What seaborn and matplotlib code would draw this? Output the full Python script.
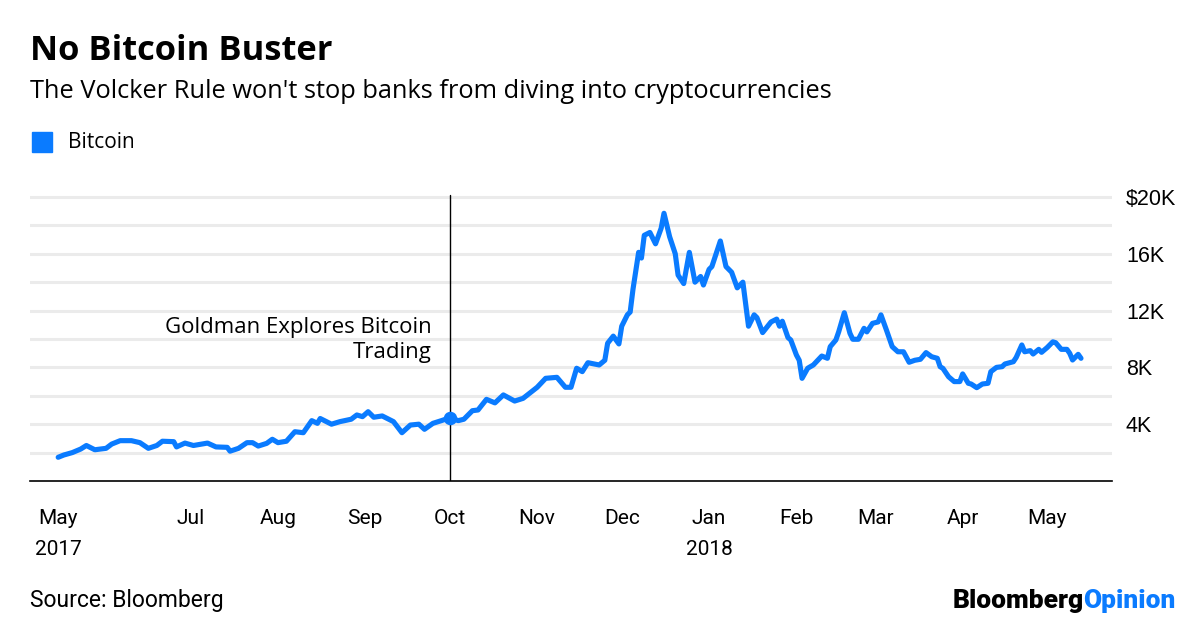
import matplotlib
matplotlib.use("Agg")
import matplotlib.pyplot as plt
import matplotlib.dates as mdates
from matplotlib.text import Annotation
from matplotlib.ticker import FixedLocator, FuncFormatter
import seaborn as sns
import pandas as pd
import numpy as np

# Bitcoin price (USD)
dates = [
    "2017-05-15", "2017-05-17", "2017-05-20", "2017-05-23", "2017-05-25", "2017-05-28",
    "2017-06-01", "2017-06-03", "2017-06-06", "2017-06-10", "2017-06-13", "2017-06-16",
    "2017-06-19", "2017-06-21", "2017-06-25", "2017-06-26", "2017-06-29", "2017-07-02",
    "2017-07-07", "2017-07-10", "2017-07-14", "2017-07-15", "2017-07-18", "2017-07-21",
    "2017-07-23", "2017-07-25", "2017-07-28", "2017-07-30", "2017-08-01", "2017-08-04",
    "2017-08-07", "2017-08-10", "2017-08-13", "2017-08-15", "2017-08-16", "2017-08-20",
    "2017-08-23", "2017-08-27", "2017-08-29", "2017-08-31", "2017-09-02", "2017-09-04",
    "2017-09-07", "2017-09-11", "2017-09-14", "2017-09-17", "2017-09-20", "2017-09-22",
    "2017-09-25", "2017-09-28", "2017-10-01", "2017-10-04", "2017-10-06", "2017-10-09",
    "2017-10-11", "2017-10-14", "2017-10-17", "2017-10-20", "2017-10-24", "2017-10-27",
    "2017-11-01", "2017-11-04", "2017-11-08", "2017-11-11", "2017-11-13", "2017-11-15",
    "2017-11-17", "2017-11-19", "2017-11-23", "2017-11-25", "2017-11-26", "2017-11-28",
    "2017-11-30", "2017-12-01", "2017-12-03", "2017-12-04", "2017-12-05", "2017-12-07",
    "2017-12-08", "2017-12-09", "2017-12-11", "2017-12-13", "2017-12-15", "2017-12-16",
    "2017-12-18", "2017-12-20", "2017-12-21", "2017-12-23", "2017-12-25", "2017-12-27",
    "2017-12-29", "2017-12-30", "2018-01-01", "2018-01-02", "2018-01-05", "2018-01-07",
    "2018-01-09", "2018-01-11", "2018-01-13", "2018-01-15", "2018-01-17", "2018-01-18",
    "2018-01-20", "2018-01-23", "2018-01-25", "2018-01-26", "2018-01-27", "2018-01-29",
    "2018-01-30", "2018-02-01", "2018-02-02", "2018-02-03", "2018-02-05", "2018-02-07",
    "2018-02-10", "2018-02-12", "2018-02-13", "2018-02-15", "2018-02-16", "2018-02-18",
    "2018-02-20", "2018-02-21", "2018-02-23", "2018-02-25", "2018-02-26", "2018-02-28",
    "2018-03-02", "2018-03-03", "2018-03-05", "2018-03-07", "2018-03-09", "2018-03-11",
    "2018-03-13", "2018-03-15", "2018-03-17", "2018-03-19", "2018-03-21", "2018-03-23",
    "2018-03-24", "2018-03-25", "2018-03-27", "2018-03-29", "2018-03-31", "2018-04-01",
    "2018-04-03", "2018-04-04", "2018-04-06", "2018-04-08", "2018-04-10", "2018-04-11",
    "2018-04-13", "2018-04-15", "2018-04-16", "2018-04-19", "2018-04-20", "2018-04-22",
    "2018-04-23", "2018-04-25", "2018-04-26", "2018-04-28", "2018-04-29", "2018-05-01",
    "2018-05-03", "2018-05-04", "2018-05-06", "2018-05-08", "2018-05-09", "2018-05-10",
    "2018-05-12", "2018-05-13",
]
prices = [
    1670, 1830, 2000, 2250, 2500, 2200,
    2300, 2600, 2840, 2840, 2700, 2300,
    2500, 2800, 2770, 2400, 2670, 2500,
    2670, 2400, 2370, 2100, 2300, 2700,
    2700, 2460, 2650, 2940, 2700, 2800,
    3470, 3400, 4250, 4060, 4400, 4000,
    4180, 4350, 4650, 4530, 4880, 4490,
    4580, 4180, 3400, 3940, 4000, 3640,
    4060, 4250, 4450, 4250, 4350, 4950,
    5000, 5750, 5500, 6060, 5630, 5820,
    6600, 7230, 7300, 6600, 6600, 7940,
    7700, 8330, 8170, 8500, 9700, 10200,
    9650, 10900, 11700, 11900, 13500, 16100,
    15700, 17300, 17500, 16700, 17800, 18850,
    17200, 16000, 14500, 13900, 16100, 14000,
    14400, 13800, 14900, 15100, 16900, 15100,
    14700, 13600, 14000, 10900, 11700, 11500,
    10450, 11200, 11400, 10900, 11250, 10100,
    9930, 8870, 8500, 7230, 7940, 8170,
    8800, 8640, 9460, 9930, 10500, 11850,
    10400, 9980, 9980, 10750, 10500, 11100,
    11200, 11700, 10600, 9460, 9100, 9100,
    8360, 8500, 8570, 9040, 8750, 8640,
    8050, 7930, 7340, 7000, 7000, 7540,
    6880, 6830, 6570, 6830, 6880, 7700,
    8000, 8050, 8240, 8400, 8700, 9580,
    9100, 9180, 8940, 9270, 9060, 9400,
    9800, 9740, 9270, 9270, 8990, 8520,
    8920, 8640,
]

tick_dates = ["2017-05-15", "2017-07-01", "2017-08-01", "2017-09-01", "2017-10-01",
              "2017-11-01", "2017-12-01", "2018-01-01", "2018-02-01", "2018-03-01",
              "2018-04-01", "2018-05-01"]
tick_labels = ["May\n2017", "Jul", "Aug", "Sep", "Oct", "Nov", "Dec", "Jan\n2018",
               "Feb", "Mar", "Apr", "May"]
y_labels = [4000, 8000, 12000, 16000, 20000]
y_grid = [2000, 6000, 10000, 14000, 18000]

event_date = "2017-10-01"
event_text = "Goldman Explores Bitcoin\nTrading"

blue = "#0a7bff"

df = pd.DataFrame({"date": pd.to_datetime(dates), "price": prices})

sns.set_style("white")
plt.rcParams["font.family"] = ["Open Sans", "DejaVu Sans"]
plt.rcParams["text.color"] = "black"

fig = plt.figure(figsize=(12, 6.27), dpi=100)
ax = fig.add_axes([30 / 1200, 1 - 481 / 627, (1112 - 30) / 1200, (481 - 185.6) / 627])

sns.lineplot(data=df, x="date", y="price", ax=ax, color=blue, linewidth=3.7,
             solid_joinstyle="round", solid_capstyle="round", zorder=3)

ax.set_xlim(pd.Timestamp("2017-05-05"), pd.Timestamp("2018-05-24"))
ax.set_ylim(0, 20800)

for s in ["top", "right", "left"]:
    ax.spines[s].set_visible(False)
ax.spines["bottom"].set_color("black")
ax.spines["bottom"].set_linewidth(1.2)

# y axis on the right, labels every 4K, grid every 2K
ax.yaxis.tick_right()
ax.yaxis.set_major_locator(FixedLocator(y_labels))
ax.yaxis.set_minor_locator(FixedLocator(y_grid))
ax.yaxis.set_major_formatter(FuncFormatter(
    lambda v, p: f"${v / 1000:.0f}K" if v == max(y_labels) else f"{v / 1000:.0f}K"))
ax.tick_params(axis="y", which="both", length=0, pad=10, labelsize=15.5, labelcolor="black")
for lab in ax.get_yticklabels():
    lab.set_family(["Liberation Sans", "DejaVu Sans"])
ax.grid(axis="y", which="both", color="#ebebeb", linewidth=2.2)
ax.set_axisbelow(True)

# x axis
ax.set_xticks(pd.to_datetime(tick_dates))
ax.set_xticklabels(tick_labels, linespacing=1.8)
ax.tick_params(axis="x", length=7, width=1, color="black", pad=13, labelsize=15,
               labelcolor="black")
for lab in ax.get_xticklabels():
    lab.set_family(["Roboto", "DejaVu Sans"])
ax.set_xlabel("")
ax.set_ylabel("")

# event marker
ev = pd.Timestamp(event_date)
ev_val = np.interp(mdates.date2num(ev), mdates.date2num(df["date"]), df["price"])
ax.axvline(ev, ymin=0, ymax=20150 / 20800, color="black", linewidth=1, zorder=2)
ax.scatter([ev], [ev_val], s=95, color=blue, zorder=4, linewidths=0)
ax.annotate(event_text, xy=(ev, 0), xycoords="data",
            xytext=(-13, (481 - 363) * 0.72), textcoords="offset points",
            ha="right", va="bottom", fontsize=16, linespacing=1.25,
            annotation_clip=False)

# titles and legend
fig.text(30 / 1200, 1 - 51 / 627, "No Bitcoin Buster", fontsize=24.8, fontweight="bold",
         va="center", ha="left")
fig.text(30 / 1200, 1 - 92 / 627, "The Volcker Rule won't stop banks from diving into cryptocurrencies",
         fontsize=18.3, va="center", ha="left")
fig.patches.append(plt.Rectangle((32 / 1200, 1 - 152 / 627), 20 / 1200, 20 / 627,
                                 transform=fig.transFigure, color=blue))
fig.text(68 / 1200, 1 - 143 / 627, "Bitcoin", fontsize=15, va="center", ha="left")

# footer
fig.text(30 / 1200, 1 - 601 / 627, "Source: Bloomberg", fontsize=16.5, va="center", ha="left",
         family=["Roboto", "DejaVu Sans"])
t1 = fig.text(1176 / 1200, 1 - 608 / 627, "Opinion", fontsize=19, fontweight="heavy",
              color=blue, va="baseline", ha="right", family=["Roboto", "DejaVu Sans"])
fig.add_artist(Annotation(
    "Bloomberg", xy=(0, 0), xycoords=t1, xytext=(0, 0), textcoords="offset points",
    ha="right", va="bottom", fontsize=19, fontweight="heavy", color="black",
    family=["Roboto", "DejaVu Sans"]))

fig.savefig("out.png", dpi=100, facecolor="white")
